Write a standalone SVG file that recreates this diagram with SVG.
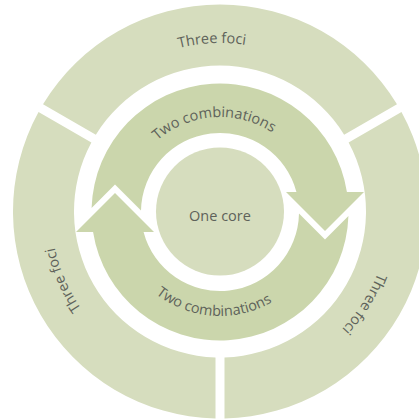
<svg xmlns="http://www.w3.org/2000/svg" width="419" height="419" viewBox="0 0 419 419">
  <style>
    .ring { fill: #d6ddbe; }
    .band { fill: #cbd6ac; }
    .lbl { font-family: "Open Sans", "DejaVu Sans", sans-serif; font-size: 14.5px; fill: #5e625a; }
  </style>
  <defs>
    <path id="outerCW" d="M220,381 A169,169 0 1 1 220,43 A169,169 0 1 1 220,381"/>
    <path id="midCW" d="M220,307 A95,95 0 1 1 220,117 A95,95 0 1 1 220,307"/>
    <path id="midCCW" d="M220,108 A104,104 0 1 0 220,316 A104,104 0 1 0 220,108"/>
    <path id="arrowShape" d="M286,192 L296.43,192 A79,79 0 0 0 141.01,210.51 L115,184.5 L91.57,207.93 A128.5,128.5 0 0 1 346.93,192 L364,192 L325,231 Z"/>
  </defs>
  <rect width="419" height="419" fill="#ffffff"/>

  <g id="outer-top">
    <path class="ring" d="M43.02,104.13 A207,207 0 0 1 396.98,104.13 L344.13,134.64 A146,146 0 0 0 95.87,134.64 Z"/>
    <text class="lbl"><textPath href="#outerCW" startOffset="49.25%" text-anchor="middle">Three foci</textPath></text>
  </g>
  <g id="outer-right">
    <path class="ring" d="M401.48,111.92 A207,207 0 0 1 224.5,418.45 L224.5,357.43 A146,146 0 0 0 348.63,142.43 Z"/>
    <text class="lbl"><textPath href="#outerCW" startOffset="84.03%" text-anchor="middle">Three foci</textPath></text>
  </g>
  <g id="outer-left">
    <path class="ring" d="M215.5,418.45 A207,207 0 0 1 38.52,111.92 L91.37,142.43 A146,146 0 0 0 215.5,357.43 Z"/>
    <text class="lbl"><textPath href="#outerCW" startOffset="18.47%" text-anchor="middle">Three foci</textPath></text>
  </g>

  <g id="arrow-upper">
    <use href="#arrowShape" class="band"/>
    <text class="lbl"><textPath href="#midCW" startOffset="48.9%" text-anchor="middle">Two combinations</textPath></text>
  </g>
  <g id="arrow-lower">
    <use href="#arrowShape" class="band" transform="rotate(180 220 212)"/>
    <text class="lbl"><textPath href="#midCCW" startOffset="48.9%" text-anchor="middle">Two combinations</textPath></text>
  </g>

  <g id="core">
    <circle class="ring" cx="220" cy="211.5" r="64"/>
    <text class="lbl" x="220" y="221" text-anchor="middle">One core</text>
  </g>
</svg>
